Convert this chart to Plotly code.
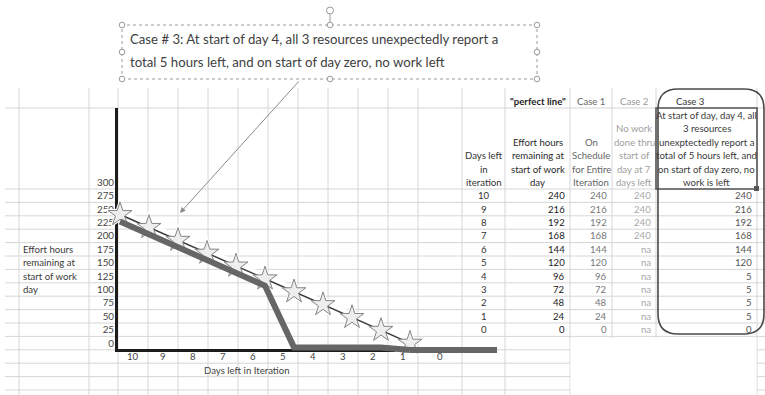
import plotly.graph_objects as go

# ---------------- data ----------------
days_left = [10, 9, 8, 7, 6, 5, 4, 3, 2, 1, 0]
perfect_line = [240, 216, 192, 168, 144, 120, 96, 72, 48, 24, 0]
case1_on_schedule = [240, 216, 192, 168, 144, 120, 96, 72, 48, 24, 0]
case2_no_work = ["240", "240", "240", "240", "na", "na", "na", "na", "na", "na", "na"]
case3_report = [240, 216, 192, 168, 144, 120, 5, 5, 5, 5, 0]
case3_tail_days = [0, -3]
case3_tail_hours = [0, 0]
y_tick_values = [0, 25, 50, 75, 100, 125, 150, 175, 200, 225, 250, 275, 300]
x_tick_labels = ["10", "9", "8", "7", "6", "5", "4", "3", "2", "1", "0"]

callout_lines = ["Case # 3: At start of day 4, all 3 resources unexpectedly report a",
                 "total 5 hours left, and on start of day zero, no work left"]
left_label_lines = ["Effort hours", "remaining at", "start of work", "day"]
x_title = "Days left in Iteration"
hdr_days = ["Days left", "in", "iteration"]
hdr_perfect = ["Effort hours", "remaining at", "start of work", "day"]
hdr_case1 = ["On", "Schedule", "for Entire", "Iteration"]
hdr_case2 = ["No work", "done thru", "start of", "day at 7", "days left"]
hdr_case3 = ["At start of day, day 4, all", "3 resources", "unexptectedly report a",
             "total of 5 hours left, and", "on start of day zero, no", "work is left"]
top_headers = ['"perfect line"', "Case 1", "Case 2", "Case 3"]

# ---------------- layout helpers (pixels -> paper) ----------------
W, H = 765, 395
FONT = "Lato"


def X(p):
    return p / W


def Y(p):
    return 1 - p / H


col_edges = [19, 89, 118, 148, 178, 208, 238, 268, 298, 328, 358, 388, 418, 462, 505, 570, 612, 656, 757]
row_h = 13.4
row_edges = [108, 189] + [189 + row_h * k for k in range(1, 16)]
GRID = "#d6d6d6"

shapes = []
for yy in row_edges:
    shapes.append(dict(type="line", xref="paper", yref="paper", x0=X(5), x1=X(765), y0=Y(yy), y1=Y(yy),
                       line=dict(color=GRID, width=1), layer="below"))
for xx in col_edges:
    shapes.append(dict(type="line", xref="paper", yref="paper", x0=X(xx), x1=X(xx), y0=Y(88), y1=Y(395),
                       line=dict(color=GRID, width=1), layer="below"))
# blank patch below the table
shapes.append(dict(type="rect", xref="paper", yref="paper", x0=X(570.5), x1=X(756.5), y0=Y(338), y1=Y(395),
                   fillcolor="white", line=dict(width=0), layer="below"))

# selected header cell of Case 3
shapes.append(dict(type="rect", xref="paper", yref="paper", x0=X(656), x1=X(757), y0=Y(189), y1=Y(108),
                   line=dict(color="#555555", width=1.6)))
shapes.append(dict(type="rect", xref="paper", yref="paper", x0=X(754), x1=X(759), y0=Y(191), y1=Y(186),
                   fillcolor="#555555", line=dict(width=0)))


# rounded rectangle around Case 3 column
def rrect(l, t, r_, b, rad):
    pts = [
        ("M", [(l + rad, t)]), ("L", [(r_ - rad, t)]), ("Q", [(r_, t), (r_, t + rad)]),
        ("L", [(r_, b - rad)]), ("Q", [(r_, b), (r_ - rad, b)]), ("L", [(l + rad, b)]),
        ("Q", [(l, b), (l, b - rad)]), ("L", [(l, t + rad)]), ("Q", [(l, t), (l + rad, t)]),
    ]
    s = ""
    for cmd, ps in pts:
        s += cmd + " " + " ".join(f"{X(a):.5f},{Y(c):.5f}" for a, c in ps) + " "
    return s + "Z"


shapes.append(dict(type="path", xref="paper", yref="paper", path=rrect(658, 89, 764, 334, 20),
                   line=dict(color="#4a4a4a", width=1.6)))

# text box (dashed) with handles
bx0, bx1, by0, by1 = 122, 537, 25, 79
shapes.append(dict(type="rect", xref="paper", yref="paper", x0=X(bx0), x1=X(bx1), y0=Y(by1), y1=Y(by0),
                   line=dict(color="#9a9a9a", width=1, dash="dot")))
shapes.append(dict(type="line", xref="paper", yref="paper", x0=X(330), x1=X(330), y0=Y(25), y1=Y(14),
                   line=dict(color="#9a9a9a", width=1)))
shapes.append(dict(type="circle", xref="paper", yref="paper", x0=X(326.5), x1=X(333.5), y0=Y(14), y1=Y(7),
                   line=dict(color="#9a9a9a", width=1), fillcolor="white"))
for hx, hy in [(bx0, by0), (330, by0), (bx1, by0), (bx0, 52), (bx1, 52), (bx0, by1), (330, by1), (bx1, by1)]:
    shapes.append(dict(type="circle", xref="paper", yref="paper", x0=X(hx - 2.8), x1=X(hx + 2.8),
                       y0=Y(hy + 2.8), y1=Y(hy - 2.8), line=dict(color="#9a9a9a", width=1), fillcolor="white"))

annotations = []


def txt(x, y, s, anchor="center", size=9.6, color="#333333", bold=False):
    if bold:
        s = "<b>" + s + "</b>"
    annotations.append(dict(x=X(x), y=Y(y), xref="paper", yref="paper", text=s, showarrow=False,
                            xanchor=anchor, yanchor="middle", font=dict(family=FONT, size=size, color=color)))


# callout text + arrow
txt(128, 39, callout_lines[0], anchor="left", size=13.2, color="#404040")
txt(128, 62, callout_lines[1], anchor="left", size=13.2, color="#404040")
annotations.append(dict(x=X(180), y=Y(213), xref="paper", yref="paper", text="", showarrow=True,
                        ax=120, ay=-133, arrowhead=2, arrowsize=1.1, arrowwidth=1, arrowcolor="#8a8a8a"))

# left label
for i, s in enumerate(left_label_lines):
    txt(21, 249.3 + i * row_h, s, anchor="left", color="#3a3a3a")

# x labels (cells under chart)
for i, s in enumerate(x_tick_labels):
    cx = (col_edges[2 + i] + col_edges[3 + i]) / 2
    txt(cx, 356.5, s, color="#444444")
txt(247, 370, x_title, color="#444444")

# table headers
txt(537.5, 101, top_headers[0], color="#222222", bold=True)
txt(591, 101, top_headers[1], color="#666666")
txt(634, 101, top_headers[2], color="#999999")
txt(690, 101, top_headers[3], color="#333333")


def header(lines, cx, color, bold=False):
    n = len(lines)
    for i, s in enumerate(lines):
        txt(cx, 182.5 - (n - 1 - i) * row_h, s, color=color, bold=bold)


header(hdr_days, 483.5, "#333333")
header(hdr_perfect, 537.5, "#2a2a2a")
header(hdr_case1, 591, "#666666")
header(hdr_case2, 634, "#a0a0a0")
header(hdr_case3, 706.5, "#3a3a3a")

for i in range(len(days_left)):
    ry = 189 + row_h * (i + 0.5)
    txt(483.5, ry, str(days_left[i]), color="#333333")
    txt(567, ry, str(perfect_line[i]), anchor="right", color="#222222")
    txt(609, ry, str(case1_on_schedule[i]), anchor="right", color="#777777")
    txt(653, ry, case2_no_work[i], anchor="right", color="#a8a8a8")
    txt(754, ry, str(case3_report[i]), anchor="right", color="#555555")

# ---------------- chart ----------------
# pixel scale: day d -> 120 + (10-d)*29 px ; hours v -> 343.1 - 0.536*v px
xr_vis = [10 + 2 / 29, 10 - (395 - 120) / 29]
xr_data = [10 + 2 / 29, 10 - (505 - 120) / 29]
yr_vis = [(343.1 - 349) / 0.536, (343.1 - 108) / 0.536]
shift = 13  # thick Case 3 line drawn slightly below the star line
yr_case3 = [(343.1 - 395) / 0.536 + shift, (343.1 - 108) / 0.536 + shift]

fig = go.Figure()
fig.add_trace(go.Scatter(x=[], y=[], xaxis="x", yaxis="y", showlegend=False))
# glow under star line
fig.add_trace(go.Scatter(x=days_left, y=perfect_line, xaxis="x2", yaxis="y", mode="lines+markers",
                         line=dict(color="white", width=10),
                         marker=dict(symbol="star", size=25, color="white", line=dict(width=0)),
                         cliponaxis=False, showlegend=False, hoverinfo="skip"))
# Case 3 thick line
fig.add_trace(go.Scatter(x=days_left, y=case3_report, xaxis="x2", yaxis="y2", mode="lines",
                         line=dict(color="#666666", width=6), showlegend=False))
fig.add_trace(go.Scatter(x=case3_tail_days, y=case3_tail_hours, xaxis="x2", yaxis="y2", mode="lines",
                         line=dict(color="#666666", width=6), showlegend=False))
# perfect line with stars
fig.add_trace(go.Scatter(x=days_left, y=perfect_line, xaxis="x2", yaxis="y", mode="lines+markers",
                         line=dict(color="#3c3c3c", width=1.5),
                         marker=dict(symbol="star", size=18, color="#eeeeee", line=dict(color="#858585", width=1)),
                         cliponaxis=False, showlegend=False))

fig.update_layout(
    width=W, height=H, margin=dict(l=0, r=0, t=0, b=0),
    paper_bgcolor="white", plot_bgcolor="rgba(0,0,0,0)",
    xaxis=dict(domain=[X(118), X(395)], range=xr_vis, anchor="y", showline=True, linewidth=3,
               linecolor="#1c1c1c", showgrid=False, zeroline=False, showticklabels=False, ticks=""),
    yaxis=dict(domain=[Y(349), Y(108)], range=yr_vis, anchor="x", showline=True, linewidth=3,
               linecolor="#1c1c1c", showgrid=False, zeroline=False, tickmode="array",
               tickvals=y_tick_values, ticktext=[str(v) for v in y_tick_values], ticks="",
               ticklabelstandoff=-1,
               tickfont=dict(family=FONT, size=9.8, color="#444444")),
    xaxis2=dict(domain=[X(118), X(505)], range=xr_data, anchor="y", visible=False),
    yaxis2=dict(domain=[0, Y(108)], range=yr_case3, anchor="x2", visible=False),
    shapes=shapes, annotations=annotations,
)

fig.write_html("out.html")
